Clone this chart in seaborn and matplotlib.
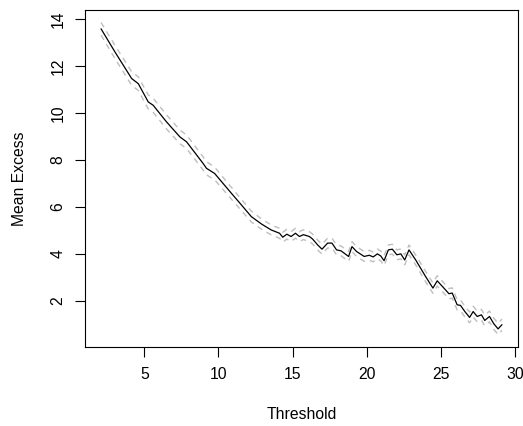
import numpy as np
import pandas as pd
import seaborn as sns
import matplotlib

matplotlib.use("Agg")
import matplotlib.pyplot as plt

# mean residual life: threshold vs mean excess, with confidence band half-widths
threshold = [
    2.09, 3.03, 4.15, 4.60, 5.27, 5.60, 6.50, 7.40, 7.85, 8.96,
    9.19, 9.74, 10.30, 10.97, 11.54, 12.21, 12.88, 13.55, 14.11, 14.33,
    14.60, 14.89, 15.18, 15.45, 15.72, 16.12, 16.34, 16.68, 16.97, 17.35,
    17.64, 17.95, 18.25, 18.76, 18.99, 19.30, 19.81, 20.15, 20.42, 20.70,
    20.93, 21.15, 21.44, 21.71, 22.01, 22.28, 22.54, 22.83, 23.28, 23.95,
    24.44, 24.73, 25.18, 25.52, 25.74, 26.07, 26.30, 26.59, 26.91, 27.15,
    27.42, 27.71, 27.93, 28.25, 28.54, 28.83, 29.09,
]
mean_excess = [
    13.60, 12.61, 11.48, 11.26, 10.48, 10.34, 9.63, 8.99, 8.78, 7.86,
    7.65, 7.43, 7.01, 6.51, 6.09, 5.59, 5.28, 5.02, 4.88, 4.71,
    4.84, 4.74, 4.88, 4.74, 4.82, 4.74, 4.63, 4.38, 4.20, 4.46,
    4.46, 4.17, 4.13, 3.89, 4.31, 4.10, 3.89, 3.94, 3.87, 4.00,
    3.91, 3.71, 4.17, 4.20, 3.96, 4.00, 3.74, 4.17, 3.74, 3.03,
    2.54, 2.85, 2.54, 2.30, 2.33, 1.83, 1.80, 1.54, 1.29, 1.54,
    1.33, 1.40, 1.16, 1.33, 1.02, 0.80, 0.98,
]
ci_half = [
    0.27, 0.28, 0.29, 0.29, 0.30, 0.30, 0.30, 0.29, 0.29, 0.28,
    0.28, 0.27, 0.26, 0.25, 0.24, 0.23, 0.22, 0.21, 0.21, 0.21,
    0.21, 0.21, 0.21, 0.21, 0.21, 0.21, 0.21, 0.21, 0.21, 0.21,
    0.21, 0.21, 0.21, 0.21, 0.21, 0.21, 0.21, 0.21, 0.21, 0.21,
    0.21, 0.21, 0.21, 0.21, 0.21, 0.21, 0.21, 0.21, 0.21, 0.22,
    0.22, 0.22, 0.22, 0.22, 0.22, 0.22, 0.23, 0.23, 0.23, 0.23,
    0.23, 0.23, 0.23, 0.23, 0.24, 0.24, 0.24,
]
xticks = [5, 10, 15, 20, 25, 30]
yticks = [2, 4, 6, 8, 10, 12, 14]

df = pd.DataFrame({"threshold": threshold, "me": mean_excess, "half": ci_half})
df["lower"] = df["me"] - df["half"]
df["upper"] = df["me"] + df["half"]

sns.set_theme(style="ticks")
plt.rcParams["font.family"] = ["Liberation Sans", "DejaVu Sans"]

fig = plt.figure(figsize=(5.23, 4.26), dpi=100)
ax = fig.add_axes([85 / 523, 1 - 347 / 426, 433 / 523, 337 / 426])

dash = dict(color="#BEBEBE", linewidth=1.0, dashes=(4, 3.5))
sns.lineplot(data=df, x="threshold", y="upper", ax=ax, **dash)
sns.lineplot(data=df, x="threshold", y="lower", ax=ax, **dash)
sns.lineplot(data=df, x="threshold", y="me", ax=ax, color="black", linewidth=0.9)

# R-style 4% padding
xr = df["threshold"].max() - df["threshold"].min()
ax.set_xlim(df["threshold"].min() - 0.04 * xr, df["threshold"].max() + 0.04 * xr)
yr = df["upper"].max() - df["lower"].min()
ax.set_ylim(df["lower"].min() - 0.04 * yr, df["upper"].max() + 0.04 * yr)

ax.set_xticks(xticks)
ax.set_yticks(yticks)
ax.tick_params(axis="both", direction="out", length=7.2, width=0.8,
               labelsize=11.3, colors="black", pad=7)
plt.setp(ax.get_yticklabels(), rotation=90, va="center")
for sp in ax.spines.values():
    sp.set_linewidth(0.8)
    sp.set_color("black")

ax.set_xlabel("Threshold", fontsize=11.3, color="black")
ax.set_ylabel("Mean Excess", fontsize=11.3, color="black")
ax.xaxis.set_label_coords(0.5, -0.178)
ax.yaxis.set_label_coords(-0.135, 0.5)

fig.savefig("out.png", dpi=100)
